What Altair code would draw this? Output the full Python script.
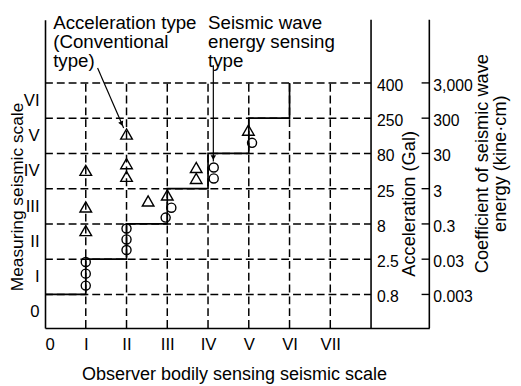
import json
import altair as alt
import pandas as pd

# ---------------- data ----------------
x_ticks = [0, 1, 2, 3, 4, 5, 6, 7]
x_labels = ["0", "I", "II", "III", "IV", "V", "VI", "VII"]
y_ticks = [0, 1, 2, 3, 4, 5, 6]
y_labels = ["0", "I", "II", "III", "IV", "V", "VI"]

grid_levels = [0.5, 1.5, 2.5, 3.5, 4.5, 5.5, 6.5]
accel_labels = ["0.8", "2.5", "8", "25", "80", "250", "400"]
coef_labels = ["0.003", "0.03", "0.3", "3", "30", "300", "3,000"]
grid_cols = [1, 2, 3, 4, 5, 6, 7]

# staircase (step-after)
step_x = [0, 1, 2, 3, 4, 5, 6]
step_y = [0.5, 1.5, 2.5, 3.5, 4.5, 5.5, 6.5]

# acceleration type (triangles)
tri_x = [1.0, 1.0, 1.0, 2.0, 2.0, 2.0, 2.53, 3.0, 3.71, 3.71, 4.99]
tri_y = [4.02, 2.98, 2.31, 5.05, 4.21, 3.85, 3.15, 3.32, 4.10, 3.79, 5.16]

# seismic wave energy sensing type (circles)
circ_x = [1.0, 1.0, 1.0, 2.0, 2.0, 2.0, 2.96, 3.10, 4.14, 4.14, 5.08]
circ_y = [1.42, 1.09, 0.75, 2.37, 2.06, 1.76, 2.68, 2.96, 4.10, 3.79, 4.80]

# annotations
ann_text = ["Acceleration type", "(Conventional", "type)",
            "Seismic wave", "energy sensing", "type"]
ann_x = [0.20, 0.20, 0.20, 4.0, 4.0, 4.0]
ann_y = [8.04, 7.49, 6.95, 8.04, 7.49, 6.95]

arrow_x = [1.29, 4.13]
arrow_y = [6.92, 7.00]
arrow_x2 = [1.93, 4.13]
arrow_y2 = [5.22, 4.27]
head1 = (1.88, 5.34)
head2 = (4.13, 4.38)

x_dom = [0, 9.43]
y_dom = [-0.45, 8.29]
accel_x = 8
coef_tick_x0 = 9.24

FONT = "Liberation Sans"

xs = alt.Scale(domain=x_dom, nice=False, zero=False)
ys = alt.Scale(domain=y_dom, nice=False, zero=False)

x_label_expr = json.dumps(x_labels) + "[datum.value]"
y_label_expr = json.dumps(y_labels) + "[datum.value]"

XAX = alt.Axis(
    values=x_ticks, labelExpr=x_label_expr, grid=False, ticks=False,
    domain=True, domainColor="black", domainWidth=1.6,
    labelFont=FONT, labelFontSize=17, labelColor="black", labelPadding=9,
    title="Observer bodily sensing seismic scale", titleFont=FONT,
    titleFontSize=18.3, titleFontWeight="normal", titleColor="black",
    titleBaseline="alphabetic", titleX=192, titleY=52)
YAX = alt.Axis(
    values=y_ticks, labelExpr=y_label_expr, grid=False, ticks=False,
    domain=True, domainColor="black", domainWidth=1.6,
    labelFont=FONT, labelFontSize=17, labelColor="black", labelPadding=6,
    title="Measuring seismic scale", titleFont=FONT, titleFontSize=17.6,
    titleFontWeight="normal", titleColor="black", titleAngle=270,
    titleAlign="center", titleBaseline="alphabetic", titleX=-22.6, titleY=179.5)


def X(f):
    return alt.X(f, type="quantitative", scale=xs, axis=XAX)


def Y(f):
    return alt.Y(f, type="quantitative", scale=ys, axis=YAX)


# ---------------- layers ----------------
hgrid_df = pd.DataFrame({"y": grid_levels, "x0": [x_dom[0]] * 7, "x1": [accel_x] * 7})
hgrid = alt.Chart(hgrid_df).mark_rule(color="black", strokeWidth=1.5, strokeDash=[8, 4]).encode(
    x=X("x0"), x2="x1:Q", y=Y("y"))

vgrid_df = pd.DataFrame({"x": grid_cols, "y0": [y_dom[0]] * 7, "y1": [grid_levels[-1]] * 7})
vgrid = alt.Chart(vgrid_df).mark_rule(color="black", strokeWidth=1.5, strokeDash=[8, 4]).encode(
    x=X("x"), y=Y("y0"), y2="y1:Q")

axes_df = pd.DataFrame({"x": [accel_x, x_dom[1]], "y0": [y_dom[0]] * 2, "y1": [y_dom[1]] * 2})
axis_lines = alt.Chart(axes_df).mark_rule(color="black", strokeWidth=1.6).encode(
    x=X("x"), y=Y("y0"), y2="y1:Q")

coef_ticks_df = pd.DataFrame({"y": grid_levels, "x0": [coef_tick_x0] * 7, "x1": [x_dom[1]] * 7})
coef_ticks = alt.Chart(coef_ticks_df).mark_rule(color="black", strokeWidth=1.4).encode(
    x=X("x0"), x2="x1:Q", y=Y("y"))

accel_df = pd.DataFrame({"y": grid_levels, "t": accel_labels, "x": [accel_x] * 7})
accel_txt = alt.Chart(accel_df).mark_text(
    align="left", baseline="middle", dx=6, dy=3, font=FONT, fontSize=16, color="black").encode(
    x=X("x"), y=Y("y"), text="t:N")

coef_df = pd.DataFrame({"y": grid_levels, "t": coef_labels, "x": [x_dom[1]] * 7})
coef_txt = alt.Chart(coef_df).mark_text(
    align="left", baseline="middle", dx=4, dy=3, font=FONT, fontSize=16, color="black").encode(
    x=X("x"), y=Y("y"), text="t:N")

titles_df = pd.DataFrame({
    "t": ["Acceleration (Gal)", "Coefficient of seismic wave", "energy (kine\u00b7cm)"],
    "x": [9.09, 10.86, 11.32],
    "y": [3.07, 4.21, 4.21],
})
side_titles = alt.Chart(titles_df).mark_text(
    angle=270, align="center", baseline="alphabetic", font=FONT, fontSize=18.5, color="black").encode(
    x=X("x"), y=Y("y"), text="t:N")

step_df = pd.DataFrame({"x": step_x, "y": step_y})
steps = alt.Chart(step_df).mark_line(interpolate="step-after", color="black", strokeWidth=1.7).encode(
    x=X("x"), y=Y("y"))

tri_df = pd.DataFrame({"x": tri_x, "y": tri_y})
tris = alt.Chart(tri_df).mark_point(
    shape="triangle-up", filled=False, color="black", strokeWidth=1.4, size=140, opacity=1).encode(
    x=X("x"), y=Y("y"))

circ_df = pd.DataFrame({"x": circ_x, "y": circ_y})
circs = alt.Chart(circ_df).mark_point(
    shape="circle", filled=False, color="black", strokeWidth=1.4, size=85, opacity=1).encode(
    x=X("x"), y=Y("y"))

ann_df = pd.DataFrame({"t": ann_text, "x": ann_x, "y": ann_y})
ann = alt.Chart(ann_df).mark_text(
    align="left", baseline="alphabetic", font=FONT, fontSize=19, color="black").encode(
    x=X("x"), y=Y("y"), text="t:N")

arrow_df = pd.DataFrame({"x": arrow_x, "y": arrow_y, "x2": arrow_x2, "y2": arrow_y2})
arrows = alt.Chart(arrow_df).mark_rule(color="black", strokeWidth=1.2).encode(
    x=X("x"), y=Y("y"), x2="x2:Q", y2="y2:Q")

h1 = alt.Chart(pd.DataFrame({"x": [head1[0]], "y": [head1[1]]})).mark_point(
    shape="triangle-up", filled=True, color="black", size=30, angle=156, opacity=1).encode(
    x=X("x"), y=Y("y"))
h2 = alt.Chart(pd.DataFrame({"x": [head2[0]], "y": [head2[1]]})).mark_point(
    shape="triangle-down", filled=True, color="black", size=30, opacity=1).encode(
    x=X("x"), y=Y("y"))

chart = alt.layer(
    hgrid, vgrid, axis_lines, coef_ticks, accel_txt, coef_txt, side_titles,
    steps, tris, circs, ann, arrows, h1, h2
).properties(
    width=390.4, height=313,
    autosize=alt.AutoSizeParams(type="none"),
    padding={"left": 37.6, "top": 9, "right": 85, "bottom": 56},
    background="white",
).configure_view(stroke=None)

chart.save("out.html", embed_options={"renderer": "svg", "actions": False})
